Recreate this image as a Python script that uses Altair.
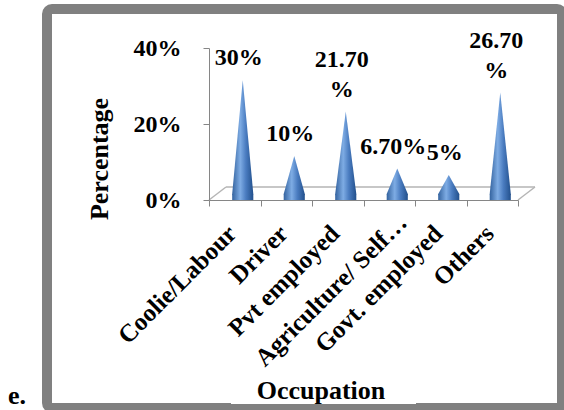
import altair as alt
import pandas as pd

# ---- data ----
categories = ["Coolie/Labour", "Driver", "Pvt employed", "Agriculture/ Self…", "Govt. employed", "Others"]
values = [30, 10, 21.7, 6.7, 5, 26.7]
value_labels = ["30%", "10%", "21.70\n%", "6.70%", "5%", "26.70\n%"]
y_ticks = [0, 20, 40]
x_title = "Occupation"
y_title = "Percentage"
panel_tag = "e."

# ---- layout ----
W, H = 309, 152
PAD = {"left": 209, "top": 48, "right": 46, "bottom": 210}
HALF = 0.205  # cone half width in category units
N = len(categories)
FONT = "Liberation Serif"
DEPTH_X, DEPTH_Y = 8, -6
LINE_H = 30
SHIFTED = categories.index("Agriculture/ Self…")  # label drawn raised, as in the source

cone_rows = []
for i, (c, v) in enumerate(zip(categories, values)):
    for k, (dx, yy) in enumerate([(-HALF, 0), (0, v), (HALF, 0)]):
        cone_rows.append({"cat": c, "pos": i + 0.5 + dx, "val": yy, "k": k})
cones_df = pd.DataFrame(cone_rows)
labels_df = pd.DataFrame({
    "cat": categories,
    "pos": [i + 0.5 for i in range(N)],
    "val": values,
    "lab": value_labels,
    "nlines": [len(s.split("\n")) for s in value_labels],
})
edge_df = pd.DataFrame({"x": [0, N], "y": [0, 0]})
back_df = pd.DataFrame({"x0": [0], "x1": [N], "y": [0]})
one = pd.DataFrame({"a": [0]})

names_js = "[" + ",".join("'" + c + "'" for c in categories) + "]"

xscale = alt.Scale(domain=[0, N], nice=False, zero=False)
yscale = alt.Scale(domain=[0, 40], nice=False)

grad = alt.Gradient(
    gradient="linear", x1=0, x2=1, y1=0, y2=0,
    stops=[
        alt.GradientStop(color="#34639f", offset=0),
        alt.GradientStop(color="#7eace4", offset=0.38),
        alt.GradientStop(color="#4a7cc0", offset=0.65),
        alt.GradientStop(color="#22508c", offset=1),
    ],
)

frame = alt.Chart(one).mark_rect(
    filled=False, stroke="#808080", strokeWidth=10, cornerRadius=5
).encode(
    x=alt.value(-162), x2=alt.value(353), y=alt.value(-39), y2=alt.value(360)
)

title_box = alt.Chart(one).mark_rect(
    fill="white", strokeWidth=0
).encode(
    x=alt.value(22), x2=alt.value(207), y=alt.value(330), y2=alt.value(356)
)

half_band = W / N / 2 - 3
cones = alt.Chart(cones_df).mark_area(
    fill=grad, xOffset=DEPTH_X, yOffset=DEPTH_Y, line=False, opacity=1
).encode(
    x=alt.X("pos:Q", scale=xscale, axis=alt.Axis(
        values=list(range(N + 1)),
        labelExpr=names_js + "[datum.value] || ''",
        labelOffset={"condition": {"test": f"datum.value == {SHIFTED}", "value": half_band + 16},
                     "value": half_band},
        labelPadding={"condition": {"test": f"datum.value == {SHIFTED}", "value": 12},
                      "value": 23},
        labelAngle=315, labelAlign="right", labelBaseline="middle",
        labelFlush=False, labelOverlap=False, labelLimit=0,
        labelFont=FONT, labelFontSize=25, labelFontWeight="bold", labelColor="black",
        tickSize=6, tickColor="#868686", domainColor="#868686", grid=False,
        title=None, zindex=1,
    )),
    y=alt.Y("val:Q", scale=yscale, stack=None, axis=alt.Axis(
        values=y_ticks, labelExpr="datum.value + '%'",
        labelFont=FONT, labelFontSize=24, labelFontWeight="bold", labelColor="black",
        labelPadding=22, tickSize=6, tickColor="#868686", domainColor="#868686",
        grid=False, title=None, zindex=1,
    )),
    detail="cat:N",
)

bases = alt.Chart(labels_df).mark_point(
    shape="M-1,0 A1,0.4 0 0,0 1,0 Z", filled=True, size=441, fill=grad,
    opacity=1, strokeWidth=0, xOffset=DEPTH_X, yOffset=DEPTH_Y,
).encode(x=alt.X("pos:Q", scale=xscale), y=alt.datum(0))

back_edge = alt.Chart(back_df).mark_rule(
    color="#b5b5b5", strokeWidth=1.5, xOffset=17, x2Offset=17, yOffset=-13
).encode(x=alt.X("x0:Q", scale=xscale), x2="x1:Q", y=alt.Y("y:Q", scale=yscale))

diag = alt.Chart(edge_df).mark_rule(
    color="#b5b5b5", strokeWidth=1.5, x2Offset=17, y2Offset=-13
).encode(x=alt.X("x:Q", scale=xscale), x2="x:Q", y=alt.Y("y:Q", scale=yscale), y2="y:Q")


def value_text(nl):
    return alt.Chart(labels_df).transform_filter(
        alt.datum.nlines == nl
    ).mark_text(
        font=FONT, fontSize=24, fontWeight="bold", color="black",
        baseline="bottom", align="center", lineBreak="\n", lineHeight=LINE_H,
        dx=4, dy=-16 - (nl - 1) * LINE_H,
    ).encode(x=alt.X("pos:Q", scale=xscale), y=alt.Y("val:Q", scale=yscale), text="lab:N")


texts = [value_text(n) for n in sorted(set(labels_df["nlines"]))]

ytitle = alt.Chart(one).mark_text(
    font=FONT, fontSize=26, fontWeight="bold", color="black",
    angle=270, align="center", baseline="middle", text=y_title,
).encode(x=alt.value(-109), y=alt.value(111))

xtitle = alt.Chart(one).mark_text(
    font=FONT, fontSize=26, fontWeight="bold", color="black",
    align="center", baseline="alphabetic", text=x_title,
).encode(x=alt.value(112), y=alt.value(351))

tag = alt.Chart(one).mark_text(
    font=FONT, fontSize=26, fontWeight="bold", color="black",
    align="left", baseline="alphabetic", text=panel_tag,
).encode(x=alt.value(-201), y=alt.value(356))

chart = alt.layer(
    frame, title_box, back_edge, diag, cones, bases, *texts, ytitle, xtitle, tag
).properties(
    width=W, height=H, padding=PAD,
    autosize=alt.AutoSizeParams(type="none"),
    background="white",
).configure_view(stroke=None)

chart.save("out.html", embed_options={"renderer": "svg", "actions": False})
